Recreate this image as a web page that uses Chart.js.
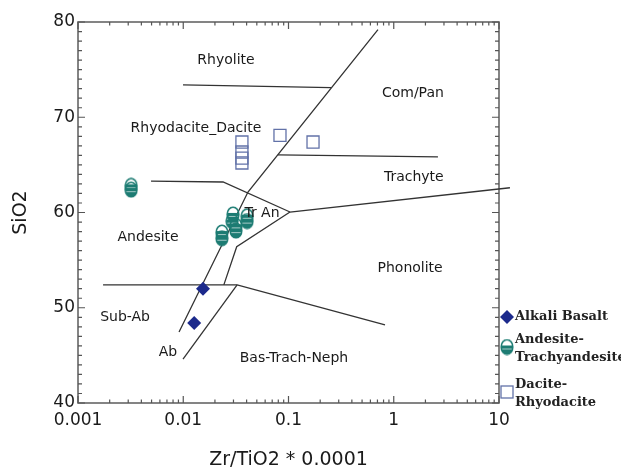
<!DOCTYPE html>
<html><head><meta charset="utf-8">
<script src="https://cdn.jsdelivr.net/npm/chart.js@4.4.0/dist/chart.umd.min.js"></script>
<style>html,body{margin:0;padding:0;background:#fff}canvas{display:block}</style>
</head><body>
<canvas id="c" width="621" height="475"></canvas>
<script>
// ---------- data ----------
const xTickValues = [0.001, 0.01, 0.1, 1, 10];
const yTickValues = [40, 50, 60, 70, 80];

const alkaliBasaltX = [0.0154, 0.0127];
const alkaliBasaltY = [52.0, 48.4];

const andesiteX = [0.0032, 0.0032, 0.0233, 0.0233, 0.0297, 0.0291, 0.0317, 0.0317, 0.0404, 0.0404];
const andesiteY = [62.8, 62.4, 57.9, 57.3, 59.8, 59.1, 58.6, 58.1, 59.6, 59.1];

const daciteX = [0.0361, 0.0361, 0.0361, 0.0361, 0.083, 0.171];
const daciteY = [67.4, 66.35, 65.7, 65.2, 68.1, 67.4];

// field boundaries (Zr/TiO2*0.0001, SiO2)
const mainLineX = [0.00912, 0.0412, 0.708];
const mainLineY = [47.45, 62.15, 79.2];
const rhyoliteLineX = [0.00995, 0.2535];
const rhyoliteLineY = [73.4, 73.1];
const comPanLineX = [0.0794, 2.63];
const comPanLineY = [66.05, 65.85];
const andesiteTopX = [0.00494, 0.0239, 0.1033];
const andesiteTopY = [63.3, 63.2, 60.05];
const trachyteLineX = [0.1033, 12.7];
const trachyteLineY = [60.05, 62.6];
const trAnBaseX = [0.1033, 0.0322, 0.0243];
const trAnBaseY = [60.05, 56.4, 52.4];
const subAbLineX = [0.00173, 0.0325, 0.826];
const subAbLineY = [52.4, 52.4, 48.2];
const abRightX = [0.00995, 0.0325];
const abRightY = [44.6, 52.4];

// field names and their anchor (data coords)
const fieldNames = ['Rhyolite', 'Com/Pan', 'Rhyodacite_Dacite', 'Trachyte', 'Tr An', 'Andesite', 'Phonolite', 'Sub-Ab', 'Ab', 'Bas-Trach-Neph'];
const fieldX = [0.0255, 1.52, 0.0132, 1.55, 0.056, 0.00463, 1.43, 0.0028, 0.00716, 0.1127];
const fieldY = [76.0, 72.55, 68.87, 63.73, 59.95, 57.43, 54.17, 49.03, 45.35, 44.72];

const legendNames = [['Alkali Basalt'], ['Andesite-', 'Trachyandesite'], ['Dacite-', 'Rhyodacite']];

// ---------- styles ----------
const NAVY = '#1c2a8c', TEAL = '#1d7c73', SQ = '#6272a8';
const SANS = '"DejaVu Sans", Arial, sans-serif';
const SERIF = '"DejaVu Serif", "Liberation Serif", serif';

function zip(xs, ys) { return xs.map((x, i) => ({ x: x, y: ys[i] })); }

function makeAndesiteMarker() {
  const c = document.createElement('canvas');
  c.width = 14; c.height = 17;
  const g = c.getContext('2d');
  const cx = 7, cy = 8.5, rx = 5.8, ry = 7.3;
  g.save();
  g.beginPath(); g.ellipse(cx, cy, rx, ry, 0, 0, 2 * Math.PI); g.clip();
  g.fillStyle = TEAL; g.fillRect(0, cy - 1.5, 14, 17);
  g.fillStyle = 'rgba(255,255,255,0.6)'; g.fillRect(0, cy + 1.5, 14, 1);
  g.restore();
  g.strokeStyle = TEAL; g.lineWidth = 1.6;
  g.beginPath(); g.ellipse(cx, cy, rx, ry, 0, 0, 2 * Math.PI); g.stroke();
  return c;
}
const andesiteMarker = makeAndesiteMarker();

function boundary(xs, ys, clip) {
  return { data: zip(xs, ys), showLine: true, borderColor: '#333', borderWidth: 1.3,
    pointRadius: 0, pointHoverRadius: 0, fill: false, tension: 0, clip: clip === false ? false : undefined };
}

const framePlugin = {
  id: 'frame',
  beforeDatasetsDraw(chart) {
    const { ctx, chartArea: a, scales: { x, y } } = chart;
    ctx.save();
    ctx.strokeStyle = '#666'; ctx.lineWidth = 1.6;
    ctx.strokeRect(a.left, a.top, a.right - a.left, a.bottom - a.top);
    ctx.lineWidth = 1.2; ctx.strokeStyle = '#555';
    ctx.beginPath();
    for (let d = -3; d <= 1; d++) {
      for (let m = 1; m <= 9; m++) {
        const v = m * Math.pow(10, d);
        if (v < 0.001 || v > 10) continue;
        const px = x.getPixelForValue(v);
        const len = m === 1 ? 7 : 3.5;
        ctx.moveTo(px, a.bottom); ctx.lineTo(px, a.bottom - len);
        ctx.moveTo(px, a.top); ctx.lineTo(px, a.top + len);
      }
    }
    for (let v = 40; v <= 80; v++) {
      const py = y.getPixelForValue(v);
      const len = v % 10 === 0 ? 7 : 4;
      ctx.moveTo(a.left, py); ctx.lineTo(a.left + len, py);
      ctx.moveTo(a.right, py); ctx.lineTo(a.right - len, py);
    }
    ctx.stroke();
    ctx.restore();
  },
  afterDatasetsDraw(chart) {
    const { ctx, chartArea: a, scales: { x, y } } = chart;
    ctx.save();
    ctx.fillStyle = '#1a1a1a';
    ctx.font = '14px ' + SANS;
    ctx.textAlign = 'center'; ctx.textBaseline = 'middle';
    fieldNames.forEach((t, i) => ctx.fillText(t, x.getPixelForValue(fieldX[i]), y.getPixelForValue(fieldY[i])));
    // legend
    ctx.font = 'bold 13px ' + SERIF;
    ctx.textAlign = 'left'; ctx.textBaseline = 'middle';
    const lx = a.right + 8, tx = a.right + 16;
    let yy = a.top + 295;
    ctx.fillStyle = NAVY;
    ctx.beginPath(); ctx.moveTo(lx, yy - 7); ctx.lineTo(lx + 7, yy); ctx.lineTo(lx, yy + 7); ctx.lineTo(lx - 7, yy); ctx.closePath(); ctx.fill();
    ctx.fillStyle = '#222';
    ctx.fillText(legendNames[0][0], tx, yy);
    yy = a.top + 325;
    ctx.drawImage(andesiteMarker, lx - 7, yy - 8.5);
    ctx.fillText(legendNames[1][0], tx, yy - 7);
    ctx.fillText(legendNames[1][1], tx, yy + 11);
    yy = a.top + 370;
    ctx.strokeStyle = SQ; ctx.lineWidth = 1.3;
    ctx.strokeRect(lx - 6, yy - 6, 12, 12);
    ctx.fillText(legendNames[2][0], tx, yy - 7);
    ctx.fillText(legendNames[2][1], tx, yy + 11);
    ctx.restore();
  }
};

new Chart(document.getElementById('c'), {
  type: 'scatter',
  data: {
    datasets: [
      { label: 'Alkali Basalt', data: zip(alkaliBasaltX, alkaliBasaltY), pointStyle: 'rectRot', pointRadius: 7,
        backgroundColor: NAVY, borderColor: NAVY, borderWidth: 0 },
      { label: 'Andesite-Trachyandesite', data: zip(andesiteX, andesiteY), pointStyle: andesiteMarker, pointRadius: 7 },
      { label: 'Dacite-Rhyodacite', data: zip(daciteX, daciteY), pointStyle: 'rect', pointRadius: 8.5,
        backgroundColor: 'rgba(255,255,255,0)', borderColor: SQ, borderWidth: 1.3 },
      boundary(mainLineX, mainLineY),
      boundary(rhyoliteLineX, rhyoliteLineY),
      boundary(comPanLineX, comPanLineY),
      boundary(andesiteTopX, andesiteTopY),
      boundary(trachyteLineX, trachyteLineY, false),
      boundary(trAnBaseX, trAnBaseY),
      boundary(subAbLineX, subAbLineY),
      boundary(abRightX, abRightY)
    ]
  },
  options: {
    responsive: false, animation: false, devicePixelRatio: 1,
    layout: { padding: { top: 22, right: 122, left: 0, bottom: 0 } },
    plugins: { legend: { display: false }, tooltip: { enabled: false } },
    scales: {
      x: {
        type: 'logarithmic', min: 0.001, max: 10,
        afterBuildTicks: s => { s.ticks = xTickValues.map(v => ({ value: v })); },
        afterFit: s => { s.height = 72; },
        ticks: { callback: v => String(v), font: { size: 17, family: SANS }, color: '#1a1a1a', padding: 7, maxRotation: 0, autoSkip: false },
        grid: { display: false, drawTicks: false }, border: { display: false },
        title: { display: true, text: 'Zr/TiO2 * 0.0001', font: { size: 19, family: SANS }, color: '#1a1a1a', padding: { top: 0, bottom: 4 } }
      },
      y: {
        min: 40, max: 80,
        afterBuildTicks: s => { s.ticks = yTickValues.map(v => ({ value: v })); },
        afterFit: s => { s.width = 78; },
        ticks: { font: { size: 17, family: SANS }, color: '#1a1a1a', padding: 3 },
        grid: { display: false, drawTicks: false }, border: { display: false },
        title: { display: true, text: 'SiO2', font: { size: 19, family: SANS }, color: '#1a1a1a', padding: { top: 10, bottom: 0 } }
      }
    }
  },
  plugins: [framePlugin]
});
</script>
</body></html>
